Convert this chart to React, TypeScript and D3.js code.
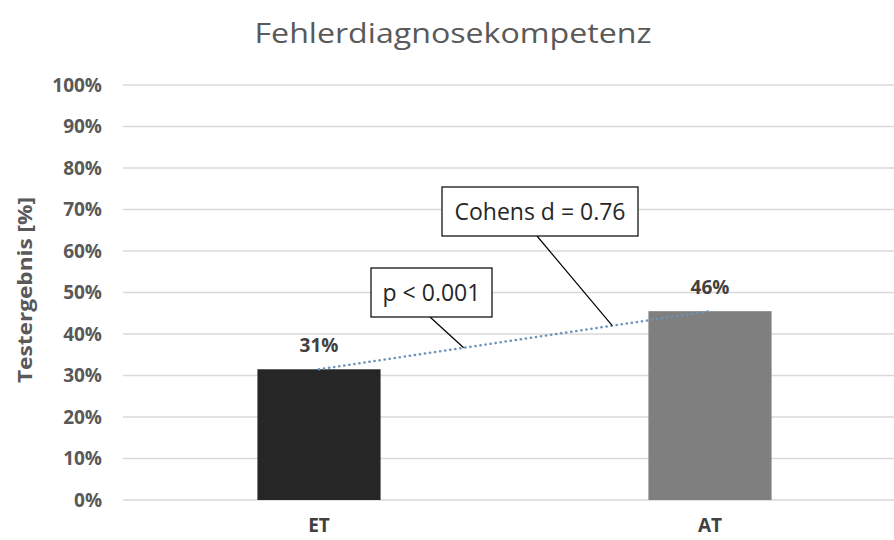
import React from "react";
import * as d3 from "d3";

const categories = ["ET", "AT"];
const values = [0.315, 0.455];
const valueLabels = ["31%", "46%"];
const yTicks = [0, 0.1, 0.2, 0.3, 0.4, 0.5, 0.6, 0.7, 0.8, 0.9, 1.0];
const barColors = ["#262626", "#7f7f7f"];
const title = "Fehlerdiagnosekompetenz";
const yTitle = "Testergebnis [%]";
const callouts = [
  { text: "p < 0.001", t: 0.37 },
  { text: "Cohens d = 0.76", t: 0.75 },
];

const W = 894;
const H = 540;
const FONT = "'Open Sans', 'DejaVu Sans', sans-serif";

const App = () => {
  const x = d3
    .scaleBand<string>()
    .domain(categories)
    .range([123.5, 905.5])
    .paddingInner(0.685)
    .paddingOuter(0.3425);
  const y = d3.scaleLinear().domain([0, 1]).range([500, 85]);
  const fmt = d3.format(".0%");

  // trend line between bar top centers
  const pts: [number, number][] = categories.map((c, i) => [
    (x(c) as number) + x.bandwidth() / 2,
    y(values[i]),
  ]);
  const line = d3.line()(pts) as string;
  const at = (t: number): [number, number] => [
    pts[0][0] + (pts[1][0] - pts[0][0]) * t,
    pts[0][1] + (pts[1][1] - pts[0][1]) * t,
  ];

  // callout boxes
  const boxes = [
    { x: 371, y: 268, w: 121, h: 49, lx: 430 },
    { x: 442, y: 187, w: 196, h: 49, lx: 537 },
  ];

  return (
    <svg width={W} height={H} style={{ display: "block", position: "absolute", left: 0, top: 0 }} fontFamily={FONT}>
      <rect width={W} height={H} fill="#ffffff" />
      <text x={453} y={43} textAnchor="middle" fontSize={28} fill="#595959" textLength={397} lengthAdjust="spacingAndGlyphs">
        {title}
      </text>

      {yTicks.map((t) => (
        <g key={t}>
          <line x1={123} x2={W} y1={y(t)} y2={y(t)} stroke="#d9d9d9" strokeWidth={1.6} />
          <text x={102} y={y(t)} dy="0.36em" textAnchor="end" fontSize={19} fontWeight="bold" fill="#595959">
            {fmt(t)}
          </text>
        </g>
      ))}

      <text
        transform={`translate(32,290) rotate(-90)`}
        textAnchor="middle"
        fontSize={19}
        fontWeight="bold"
        fill="#595959"
        textLength={186}
        lengthAdjust="spacingAndGlyphs"
      >
        {yTitle}
      </text>

      {categories.map((c, i) => (
        <g key={c}>
          <rect x={x(c)} y={y(values[i])} width={x.bandwidth()} height={y(0) - y(values[i])} fill={barColors[i]} />
          <text x={(x(c) as number) + x.bandwidth() / 2} y={y(values[i]) - 17} textAnchor="middle" fontSize={19} fontWeight="bold" fill="#404040">
            {valueLabels[i]}
          </text>
          <text x={(x(c) as number) + x.bandwidth() / 2} y={532} textAnchor="middle" fontSize={19} fontWeight="bold" fill="#404040">
            {c}
          </text>
        </g>
      ))}

      <path d={line} fill="none" stroke="#6f93b8" strokeWidth={2.6} strokeDasharray="0.1 5" strokeLinecap="round" />

      {callouts.map((c, i) => {
        const b = boxes[i];
        const [ax, ay] = at(c.t);
        return (
          <g key={c.text}>
            <line x1={b.lx} y1={b.y + b.h} x2={ax} y2={ay} stroke="#000" strokeWidth={1.2} />
            <rect x={b.x} y={b.y} width={b.w} height={b.h} fill="#fff" stroke="#000" strokeWidth={1.2} />
            <text x={b.x + b.w / 2} y={b.y + b.h / 2} dy="0.35em" textAnchor="middle" fontSize={23} fill="#262626">
              {c.text}
            </text>
          </g>
        );
      })}
    </svg>
  );
};

export default App;
